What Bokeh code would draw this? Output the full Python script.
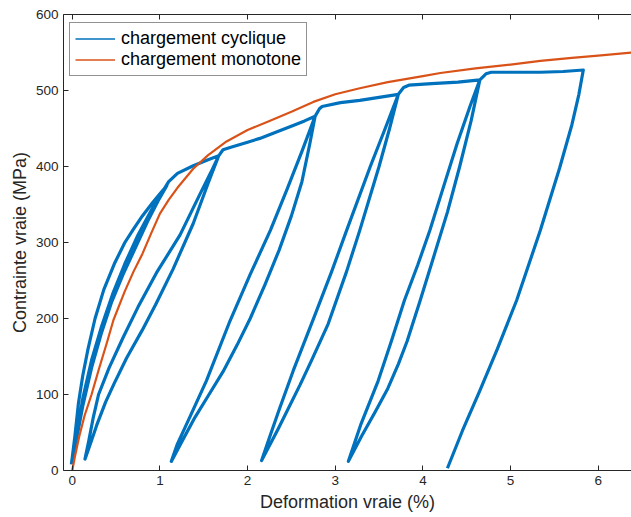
from bokeh.plotting import figure
from bokeh.models import LinearAxis, FixedTicker, Range1d, Legend, LegendItem
from bokeh.embed import file_html
from bokeh.resources import INLINE

# ---- data (strain %, true stress MPa) ----
# cyclic test, built from successive branches
load0_x = [-0.01, 0.03, 0.07, 0.12, 0.18, 0.26, 0.36, 0.48]
load0_y = [8, 45, 88, 125, 160, 200, 238, 272]
rel0_x = [0.60, 0.70, 0.80, 0.92, 1.00, 1.08]
rel0_y = [300, 318, 335, 353, 364, 375]
unl1_x = [0.98, 0.86, 0.72, 0.58, 0.45, 0.33, 0.22, 0.12, 0.05, 0.00]
unl1_y = [355, 328, 293, 258, 222, 180, 135, 85, 42, 10]
rel1_x = [0.05, 0.12, 0.22, 0.33, 0.46, 0.60, 0.75, 0.90, 1.02, 1.10, 1.20, 1.38, 1.55, 1.67]
rel1_y = [45, 95, 145, 188, 232, 272, 310, 342, 365, 380, 391, 401, 409, 414]
unl2_x = [1.55, 1.38, 1.15, 0.95, 0.80, 0.62, 0.48, 0.38, 0.28, 0.20, 0.145]
unl2_y = [378, 325, 265, 218, 185, 148, 115, 90, 60, 33, 15]
rel2_x = [0.19, 0.24, 0.30, 0.42, 0.58, 0.75, 0.96, 1.23, 1.45, 1.58, 1.67]
rel2_y = [40, 70, 100, 135, 175, 215, 260, 310, 362, 392, 414]
hard2_x = [1.72, 1.80, 2.00, 2.14, 2.30, 2.52, 2.65, 2.77]
hard2_y = [422, 425, 432, 437, 444, 454, 460, 466]
unl3_x = [2.71, 2.62, 2.50, 2.36, 2.20, 2.03, 1.88, 1.72, 1.56, 1.40, 1.25, 1.13]
unl3_y = [430, 380, 335, 290, 245, 200, 165, 130, 100, 70, 38, 12]
rel3_x = [1.20, 1.32, 1.53, 1.80, 2.03, 2.26, 2.45, 2.62, 2.77]
rel3_y = [35, 65, 118, 197, 258, 316, 370, 420, 466]
hard3_x = [2.82, 2.85, 3.06, 3.28, 3.50, 3.72]
hard3_y = [476, 479, 484, 487, 491, 495]
unl4_x = [3.62, 3.50, 3.28, 3.13, 2.92, 2.73, 2.60, 2.35, 2.16]
unl4_y = [450, 400, 316, 262, 193, 145, 113, 55, 13]
rel4_x = [2.24, 2.36, 2.52, 2.77, 2.96, 3.13, 3.40, 3.57, 3.72]
rel4_y = [40, 80, 131, 205, 262, 316, 400, 450, 495]
hard4_x = [3.78, 3.84, 4.10, 4.40, 4.65]
hard4_y = [504, 507, 509, 511, 514]
unl5_x = [4.55, 4.42, 4.28, 4.12, 3.97, 3.82, 3.72, 3.60, 3.46, 3.30, 3.15]
unl5_y = [460, 400, 340, 280, 224, 170, 140, 108, 78, 45, 12]
rel5_x = [3.29, 3.49, 3.64, 3.79, 3.94, 4.08, 4.21, 4.39, 4.54, 4.65]
rel5_y = [60, 118, 170, 224, 270, 316, 364, 430, 480, 514]
hard5_x = [4.72, 4.78, 5.00, 5.34, 5.60, 5.83]
hard5_y = [522, 524, 524, 524, 525, 527]
unl6_x = [5.78, 5.70, 5.56, 5.34, 5.07, 4.85, 4.65, 4.45, 4.28]
unl6_y = [495, 455, 398, 316, 224, 160, 105, 52, 3]

# monotonic test
mono_x = [0, 0.03, 0.08, 0.14, 0.22, 0.30, 0.40, 0.47, 0.60, 0.70, 0.80, 0.90,
          1.00, 1.10, 1.20, 1.38, 1.55, 1.76, 2.00, 2.25, 2.50, 2.75, 3.00,
          3.28, 3.60, 4.00, 4.20, 4.60, 5.00, 5.34, 5.70, 6.00, 6.40]
mono_y = [0, 18, 45, 72, 100, 132, 170, 198, 236, 262, 285, 312,
          338, 356, 372, 397, 415, 433, 448, 460, 472, 485, 495,
          503, 511, 519, 523, 529, 534, 539, 543, 546, 550]

x_ticks = [0, 1, 2, 3, 4, 5, 6]
y_ticks = [0, 100, 200, 300, 400, 500, 600]
legend_labels = ["chargement cyclique", "chargement monotone"]

segs_x = [load0_x, rel0_x, unl1_x, rel1_x, unl2_x, rel2_x, hard2_x,
          unl3_x, rel3_x, hard3_x, unl4_x, rel4_x, hard4_x, unl5_x, rel5_x,
          hard5_x, unl6_x]
segs_y = [load0_y, rel0_y, unl1_y, rel1_y, unl2_y, rel2_y, hard2_y,
          unl3_y, rel3_y, hard3_y, unl4_y, rel4_y, hard4_y, unl5_y, rel5_y,
          hard5_y, unl6_y]
cyc_x = [v for s in segs_x for v in s]
cyc_y = [v for s in segs_y for v in s]

BLUE = "#0072BD"
ORANGE = "#D95319"
AX = "#262626"
FONT = "Liberation Sans"

p = figure(width=631, height=517,
           x_range=Range1d(-0.1, 6.38), y_range=Range1d(0, 600),
           output_backend="svg", toolbar_location=None,
           min_border_left=63, min_border_right=0,
           min_border_top=14, min_border_bottom=47)
p.outline_line_color = None
p.xgrid.visible = False
p.ygrid.visible = False
p.background_fill_color = "white"
p.border_fill_color = "white"

r_cyc = p.line(cyc_x, cyc_y, line_color=BLUE, line_width=3.2,
               line_join="round")
r_mono = p.line(mono_x, mono_y, line_color=ORANGE, line_width=2.2,
                line_join="round")
# thin line samples for the legend (single point: draws nothing in the plot)
leg_cyc = p.line(cyc_x[:1], cyc_y[:1], line_color=BLUE, line_width=1.5)
leg_mono = p.line(mono_x[:1], mono_y[:1], line_color=ORANGE, line_width=1.5)

bottom = p.below[0]
left = p.left[0]
top = LinearAxis()
p.add_layout(top, "above")

bottom.ticker = FixedTicker(ticks=x_ticks)
top.ticker = FixedTicker(ticks=x_ticks)
left.ticker = FixedTicker(ticks=y_ticks)

for ax in [bottom, left, top]:
    ax.axis_line_color = AX
    ax.axis_line_width = 1
    ax.major_tick_line_color = AX
    ax.major_tick_in = 5
    ax.major_tick_out = 0
    ax.minor_tick_line_color = None
    ax.major_label_text_color = AX
    ax.major_label_text_font = FONT
    ax.major_label_text_font_size = "13.5px"
    ax.axis_label_text_font = FONT
    ax.axis_label_text_font_size = "18px"
    ax.axis_label_text_font_style = "normal"
    ax.axis_label_text_color = AX

top.major_label_text_font_size = "1px"
top.major_label_text_color = None
top.major_label_standoff = 0

bottom.axis_label = "Deformation vraie (%)"
bottom.major_label_standoff = 5
bottom.axis_label_standoff = 4
left.axis_label = "Contrainte vraie (MPa)"
left.major_label_standoff = 5
left.axis_label_standoff = 3

legend = Legend(items=[LegendItem(label=legend_labels[0], renderers=[leg_cyc]),
                       LegendItem(label=legend_labels[1], renderers=[leg_mono])],
                location=(6, 394))
legend.label_text_font = FONT
legend.label_text_font_size = "18px"
legend.label_text_color = "black"
legend.glyph_width = 40
legend.glyph_height = 21
legend.label_height = 21
legend.label_standoff = 6
legend.padding = 5
legend.spacing = 0
legend.margin = 0
legend.border_line_color = AX
legend.border_line_width = 1
legend.background_fill_color = "white"
legend.background_fill_alpha = 1
p.add_layout(legend, "center")

open("out.html", "w").write(file_html(p, INLINE))
